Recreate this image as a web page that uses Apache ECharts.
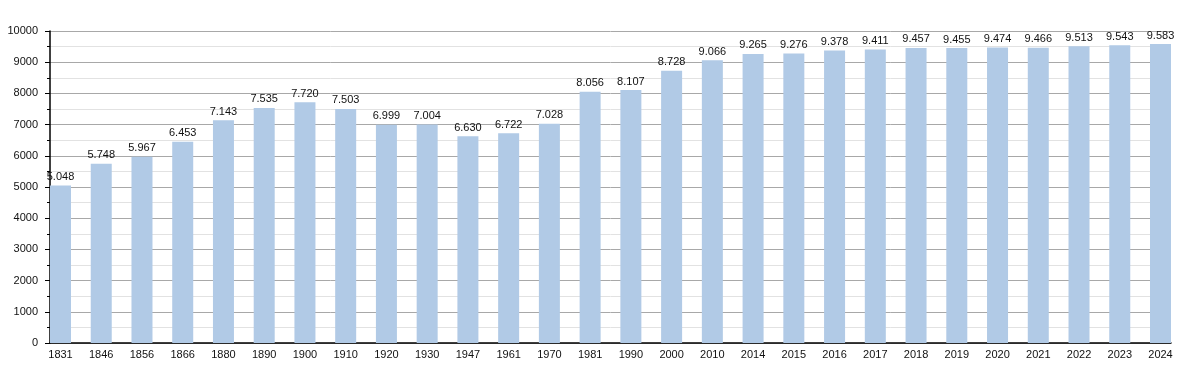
<!DOCTYPE html>
<html><head><meta charset="utf-8">
<script src="https://cdn.jsdelivr.net/npm/echarts@6/dist/echarts.min.js"></script>
<style>html,body{margin:0;padding:0;background:#fff}#c{width:1200px;height:373px}</style>
</head><body><div id="c"></div>
<script>
const years = ['1831','1846','1856','1866','1880','1890','1900','1910','1920','1930','1947','1961','1970','1981','1990','2000','2010','2014','2015','2016','2017','2018','2019','2020','2021','2022','2023','2024'];
const population = [5048,5748,5967,6453,7143,7535,7720,7503,6999,7004,6630,6722,7028,8056,8107,8728,9066,9265,9276,9378,9411,9457,9455,9474,9466,9513,9543,9583];
const yTicks = [0,1000,2000,3000,4000,5000,6000,7000,8000,9000,10000];

const fmt = v => { const s = String(v); return s.length > 3 ? s.slice(0, s.length-3) + '.' + s.slice(-3) : s; };
const chart = echarts.init(document.getElementById('c'), null, {renderer:'canvas'});
const font = 'Liberation Sans, Arial, sans-serif';
chart.setOption({
  animation:false,
  grid:[
    {left:50, right:29, top:31, bottom:30, containLabel:false},
    {left:60.5, right:39.5, top:31, bottom:30, containLabel:false}
  ],
  xAxis:[
    {type:'category', gridIndex:0, data:years, boundaryGap:true,
     axisLine:{show:true, lineStyle:{color:'#000', width:1.5}}, axisTick:{show:false}, axisLabel:{show:false}, splitLine:{show:false}},
    {type:'category', gridIndex:1, data:years, boundaryGap:false,
     axisLine:{show:false}, axisTick:{show:false},
     axisLabel:{show:true, interval:0, color:'#111', fontFamily:font, fontSize:11, margin:6}, splitLine:{show:false}}
  ],
  yAxis:[
    {type:'value', gridIndex:0, min:yTicks[0], max:yTicks[yTicks.length-1], interval:1000,
     axisLine:{show:true, lineStyle:{color:'#000', width:1.5}},
     axisTick:{show:true, length:5, lineStyle:{color:'#000'}},
     minorTick:{show:true, splitNumber:2, length:3, lineStyle:{color:'#000'}},
     axisLabel:{color:'#111', fontFamily:font, fontSize:11, margin:12, formatter:v=>String(v)},
     splitLine:{show:true, lineStyle:{color:'#a8a8a8', width:1}},
     minorSplitLine:{show:true, lineStyle:{color:'#e2e2e2', width:1}}},
    {type:'value', gridIndex:1, min:0, max:10000, show:false, splitLine:{show:false}}
  ],
  series:[{
    type:'bar', xAxisIndex:1, yAxisIndex:1, data:population, barWidth:21,
    itemStyle:{color:'#b1cae6'},
    label:{show:true, position:'top', distance:3, color:'#111', fontFamily:font, fontSize:11, formatter:p=>fmt(p.value)}
  }]
});
</script></body></html>
